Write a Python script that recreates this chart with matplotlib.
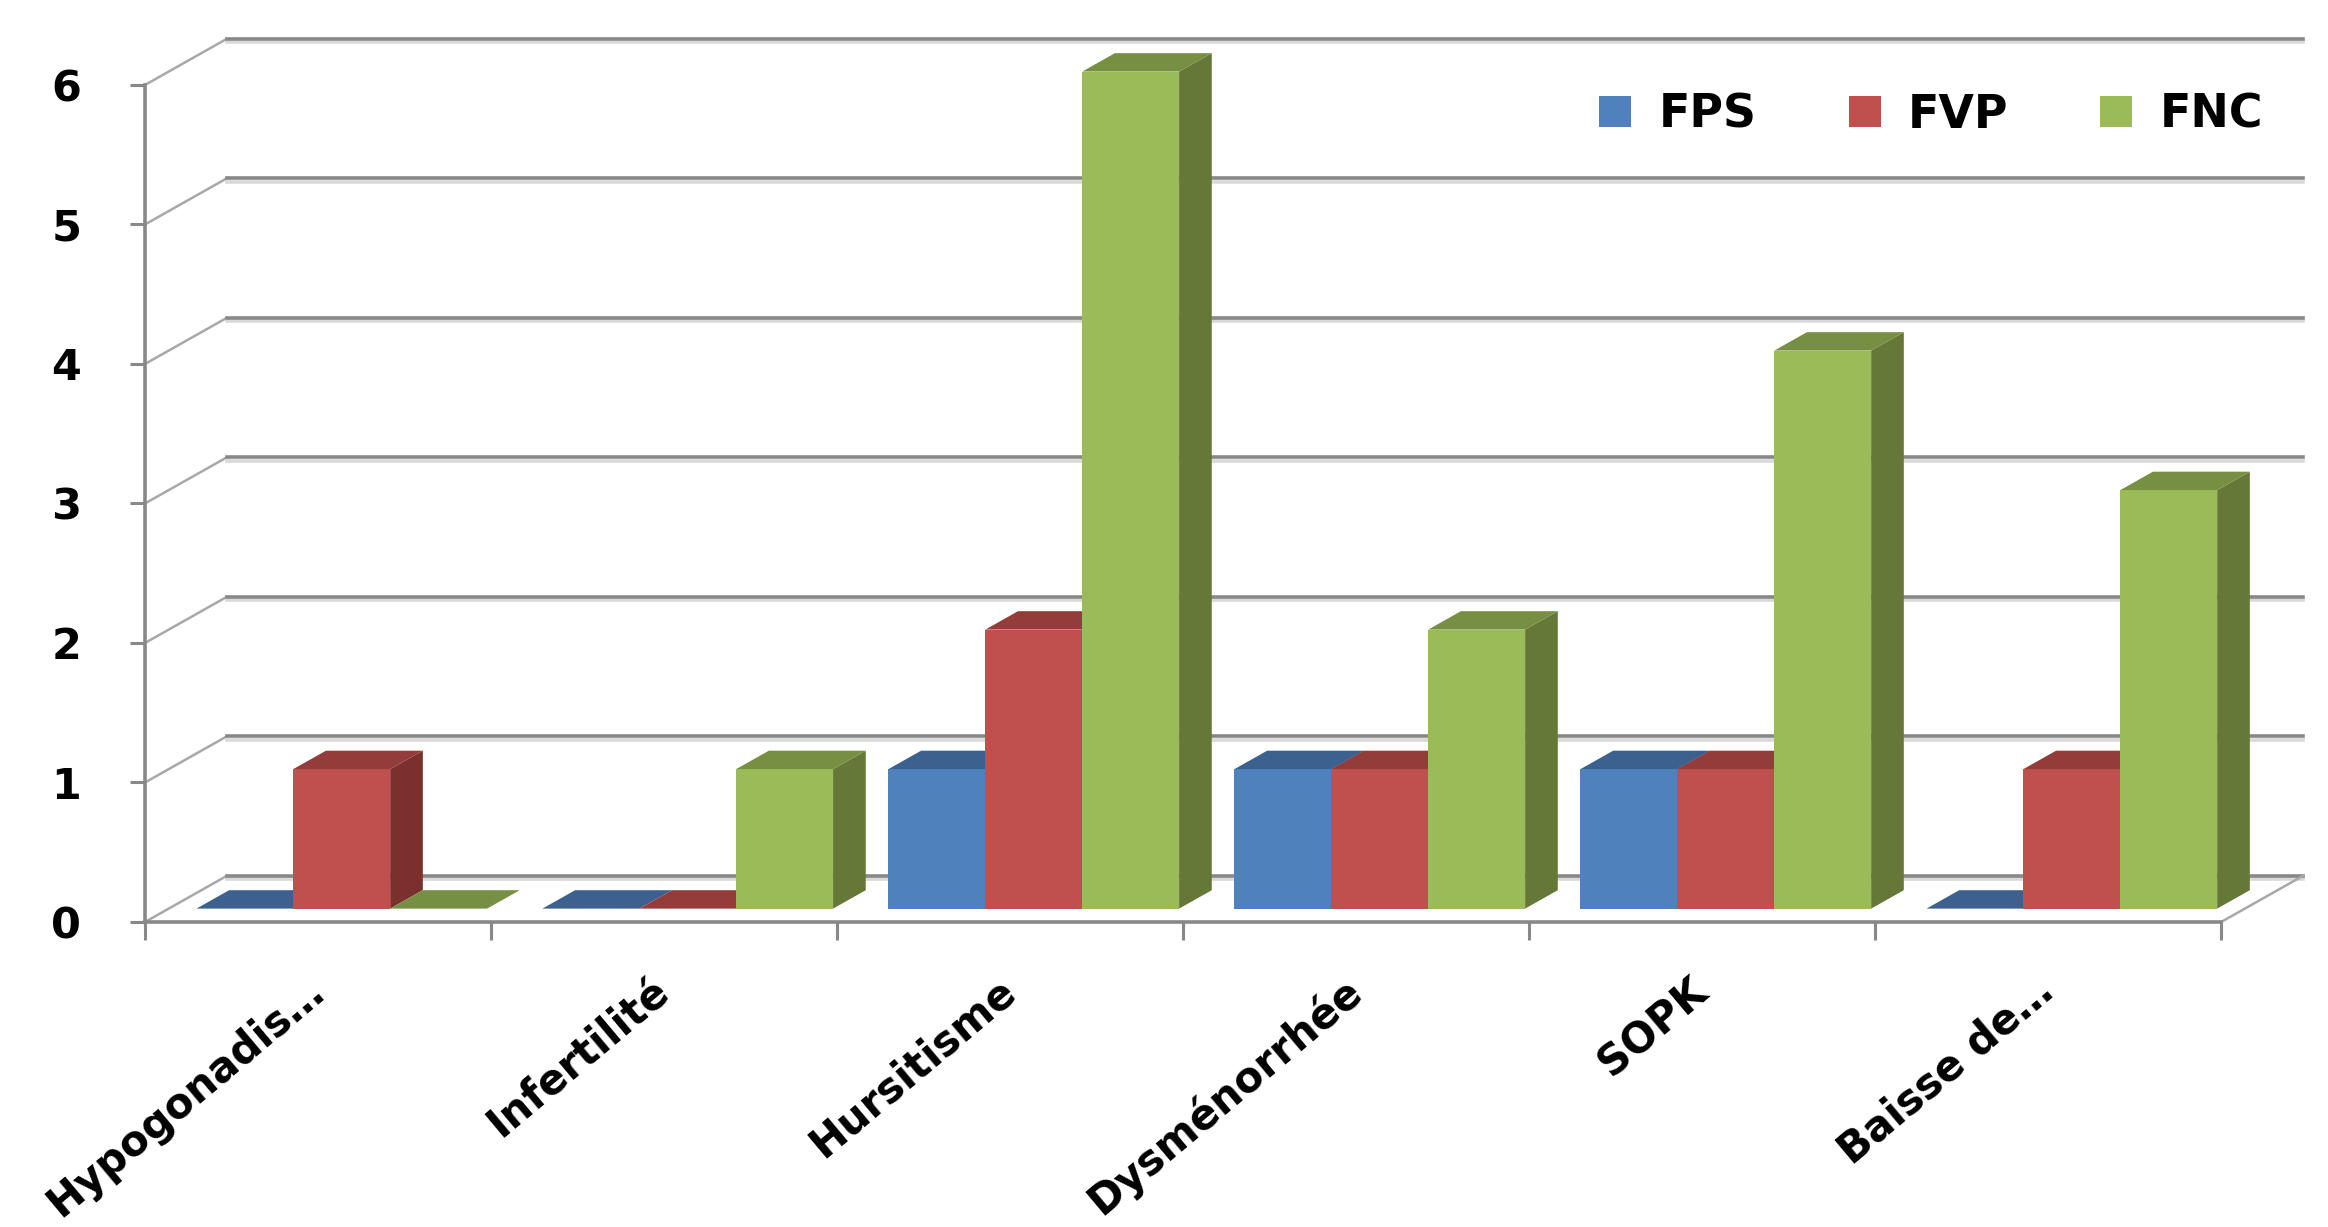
import numpy as np
import matplotlib
matplotlib.use('Agg')
import matplotlib.pyplot as plt
from matplotlib.patches import Polygon, Patch
import matplotlib.patheffects as pe

# data
categories = ['Hypogonadis…', 'Infertilité', 'Hursitisme', 'Dysménorrhée', 'SOPK', 'Baisse de…']
series = ['FPS', 'FVP', 'FNC']
fps = [0, 0, 1, 1, 1, 0]
fvp = [1, 0, 2, 1, 1, 1]
fnc = [0, 1, 6, 2, 4, 3]
y_ticks = [0, 1, 2, 3, 4, 5, 6]

front_cols = ['#4F81BD', '#C0504D', '#9BBB59']
top_cols = ['#3C618E', '#933C3A', '#778F42']
side_cols = ['#375C89', '#7C302E', '#657838']
grid_col = '#888888'

plt.rcParams['font.family'] = 'DejaVu Sans'
plt.rcParams['font.weight'] = 'bold'

fig = plt.figure(figsize=(23.28, 12.27), dpi=100)
ax = fig.add_axes([0.0623, 0.2486, 0.9364, 0.7504])
ax.set_xlim(0, 6.3)
ax.set_ylim(0, 6.6)

# oblique depth of the floor, in data units
dx, dy = 0.236, 0.33
d0, d1 = 0.29, 0.69   # bars stand in this slice of the depth
bw = 0.28

shadow = [pe.SimpleLineShadow(offset=(0, -2.5), shadow_color='#d9d9d9', alpha=1), pe.Normal()]

# back wall gridlines + side wall diagonals
for v in y_ticks:
    ax.plot([0, dx], [v, v + dy], color='#a8a8a8', lw=1.8, zorder=1, clip_on=False)
    ax.plot([dx, 6 + dx], [v + dy, v + dy], color=grid_col, lw=2.6, zorder=1,
            clip_on=False, path_effects=shadow)
ax.plot([6, 6 + dx], [0, dy], color='#a8a8a8', lw=1.8, zorder=1, clip_on=False)

# 3d-looking columns
data = [fps, fvp, fnc]
ox, oy = (d1 - d0) * dx, (d1 - d0) * dy
for i in range(len(categories)):
    for j, vals in enumerate(data):
        h = vals[i]
        x0 = i + 0.5 - 1.5 * bw + j * bw + d0 * dx
        y0 = d0 * dy
        x1 = x0 + bw
        z = 3 + i * 3 + j
        if h > 0:
            side = [(x1, y0), (x1 + ox, y0 + oy), (x1 + ox, y0 + h + oy), (x1, y0 + h)]
            front = [(x0, y0), (x1, y0), (x1, y0 + h), (x0, y0 + h)]
            ax.add_patch(Polygon(side, closed=True, fc=side_cols[j], lw=0, zorder=z, clip_on=False))
            ax.add_patch(Polygon(front, closed=True, fc=front_cols[j], lw=0, zorder=z))
        top = [(x0, y0 + h), (x1, y0 + h), (x1 + ox, y0 + h + oy), (x0 + ox, y0 + h + oy)]
        ax.add_patch(Polygon(top, closed=True, fc=top_cols[j], lw=0, zorder=z, clip_on=False))

# axes
ax.spines[['top', 'right']].set_visible(False)
for s in ['left', 'bottom']:
    ax.spines[s].set_color(grid_col)
    ax.spines[s].set_linewidth(2.6)
    ax.spines[s].set_bounds(0, 6)
    ax.spines[s].set_zorder(2)

ax.set_yticks(y_ticks)
ax.tick_params(axis='y', length=11, width=2.2, color=grid_col, pad=35, labelsize=31)

ax.set_xticks(range(7))
ax.set_xticklabels([])
ax.tick_params(axis='x', which='major', length=13, width=2.2, color=grid_col)
ax.set_xticks(np.arange(6) + 0.5, minor=True)
ax.set_xticklabels(categories, minor=True, rotation=40, ha='right', va='center',
                   rotation_mode='anchor', fontsize=30)
ax.tick_params(axis='x', which='minor', length=0, pad=46)

handles = [Patch(fc=c, ec='none') for c in front_cols]
fig.legend(handles, series, loc='center', bbox_to_anchor=(0.8296, 0.906), ncol=3,
           frameon=False, fontsize=33, handlelength=0.7, handleheight=0.65,
           handletextpad=0.6, columnspacing=2.0)

fig.savefig('out.png', dpi=100)
